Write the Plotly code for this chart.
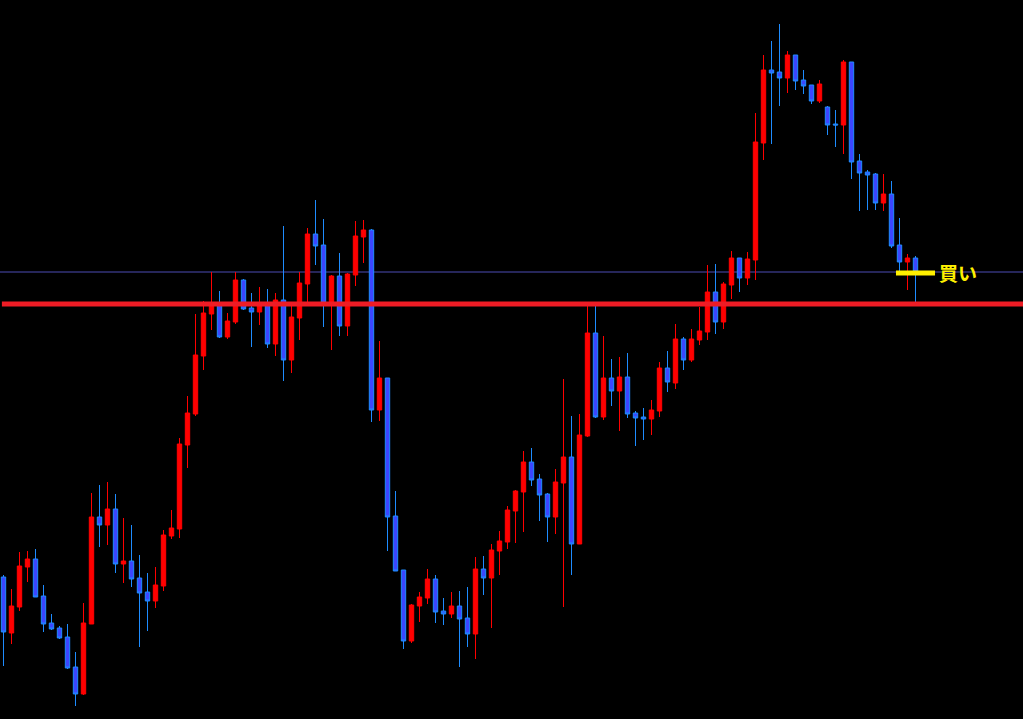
import plotly.graph_objects as go

# Price values (arbitrary price units, higher = up)
opens = [142, 86, 112, 152, 160, 123, 96, 91, 82, 52,
         25, 95, 202, 194, 210, 155, 158, 141, 127, 118,
         133, 183, 190, 274, 305, 363, 405, 414, 382, 397,
         439, 411, 407, 414, 375, 419, 359, 401, 435, 485,
         474, 416, 443, 393, 444, 482, 489, 309, 341, 203,
         149, 78, 113, 121, 140, 108, 105, 113, 101, 85,
         150, 141, 168, 177, 208, 227, 257, 240, 225, 202,
         236, 262, 175, 283, 386, 302, 341, 328, 342, 306,
         302, 300, 308, 351, 336, 380, 359, 379, 387, 427,
         397, 434, 461, 441, 459, 576, 649, 647, 641, 664,
         639, 634, 618, 612, 595, 594, 657, 558, 547, 545,
         516, 525, 474, 457, 461]
highs = [144, 130, 167, 168, 170, 134, 105, 93, 95, 67,
         116, 226, 234, 237, 225, 201, 194, 164, 146, 152,
         189, 209, 281, 323, 405, 418, 447, 428, 406, 447,
         440, 426, 432, 430, 426, 493, 417, 447, 491, 519,
         500, 444, 466, 446, 498, 499, 490, 378, 341, 228,
         149, 115, 127, 150, 144, 121, 127, 128, 132, 162,
         163, 175, 188, 213, 229, 268, 271, 245, 226, 250,
         340, 303, 305, 414, 414, 383, 360, 362, 366, 308,
         311, 319, 357, 368, 395, 382, 390, 412, 454, 455,
         437, 468, 461, 467, 606, 664, 678, 695, 668, 664,
         649, 634, 639, 613, 609, 659, 657, 565, 549, 546,
         545, 538, 501, 465, 463]
lows = [53, 75, 108, 137, 122, 87, 89, 80, 50, 13,
        24, 95, 172, 174, 146, 136, 132, 72, 88, 111,
        128, 180, 181, 251, 303, 349, 389, 381, 380, 395,
        409, 372, 394, 371, 363, 338, 346, 379, 414, 454,
        392, 369, 383, 383, 433, 456, 297, 298, 168, 148,
        70, 76, 97, 115, 96, 94, 101, 52, 72, 60,
        124, 91, 144, 170, 176, 187, 233, 198, 177, 185,
        112, 144, 175, 282, 301, 299, 313, 288, 301, 273,
        279, 284, 302, 327, 330, 349, 357, 374, 379, 385,
        390, 420, 427, 434, 439, 559, 575, 613, 626, 629,
        625, 615, 616, 584, 572, 565, 540, 508, 509, 509,
        508, 471, 447, 429, 417]
closes = [87, 113, 153, 160, 122, 95, 90, 81, 51, 25,
          96, 202, 194, 210, 155, 158, 140, 126, 118, 134,
          184, 191, 275, 306, 364, 406, 415, 382, 398, 439,
          410, 407, 416, 375, 419, 359, 402, 436, 485, 473,
          416, 443, 393, 445, 483, 489, 309, 341, 202, 148,
          78, 114, 122, 140, 107, 105, 113, 100, 85, 150,
          141, 169, 178, 209, 228, 257, 239, 224, 202, 237,
          262, 175, 284, 386, 302, 341, 328, 342, 305, 301,
          300, 309, 351, 337, 380, 359, 380, 388, 427, 397,
          435, 461, 441, 460, 577, 649, 646, 641, 664, 638,
          633, 618, 635, 594, 594, 657, 557, 546, 544, 516,
          525, 473, 457, 461, 447]
bars = list(range(len(opens)))

buy_level = 447          # thin blue horizontal line
resistance_level = 415   # thick red horizontal line
buy_marker_level = 446   # yellow marker
buy_label = "買い"

fig = go.Figure()
fig.add_trace(go.Candlestick(
    x=bars, open=opens, high=highs, low=lows, close=closes,
    increasing=dict(line=dict(color="#FF0000", width=1), fillcolor="#FF0000"),
    decreasing=dict(line=dict(color="#1E8CFF", width=1), fillcolor="#3C46FF"),
    whiskerwidth=0, hoverinfo="skip", showlegend=False,
))

n = len(bars)
x_lo = -3.5 / 8
x_hi = (1023 - 3.5) / 8

fig.add_shape(type="line", xref="paper", x0=0, x1=1, y0=buy_level, y1=buy_level,
              line=dict(color="#4C4CB4", width=1), layer="below")
fig.add_shape(type="line", xref="x", x0=-0.2, x1=x_hi, y0=resistance_level, y1=resistance_level,
              line=dict(color="#EE1C25", width=5), layer="above")
fig.add_shape(type="line", xref="x", x0=n - 3.44, x1=n + 1.44,
              y0=buy_marker_level, y1=buy_marker_level,
              line=dict(color="#FFF000", width=5), layer="above")
fig.add_annotation(x=n + 1.65, y=buy_level - 0.5, xref="x", yref="y",
                   text="<b>" + buy_label + "</b>", showarrow=False,
                   xanchor="left", yanchor="middle",
                   font=dict(family="Noto Sans CJK JP", size=19, color="#FFF000"))

fig.update_layout(
    width=1023, height=719,
    margin=dict(l=0, r=0, t=0, b=0),
    paper_bgcolor="#000000", plot_bgcolor="#000000",
    boxgap=0.45, boxgroupgap=0,
    showlegend=False,
    xaxis=dict(range=[x_lo, x_hi], visible=False, rangeslider=dict(visible=False), fixedrange=True),
    yaxis=dict(range=[0, 719], visible=False, fixedrange=True),
)
fig.write_html(
    "out.html",
    config={"displayModeBar": False},
    post_script="document.body.style.margin='0';document.body.style.background='#000';",
)
